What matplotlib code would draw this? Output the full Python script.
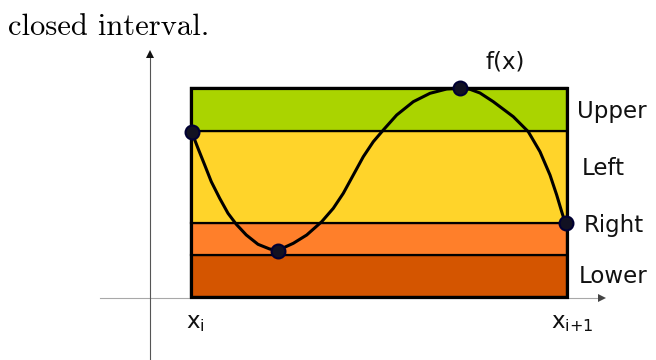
import numpy as np
import matplotlib.pyplot as plt
from matplotlib.patches import Rectangle

# interval endpoints (units measured from the axis origin)
x_left = 41
x_right = 417
rect_bottom = 1

# Riemann sum heights, bottom to top
band_names = ["Lower", "Right", "Left", "Upper"]
band_levels = [43, 75, 167, 210]
band_colors = ["#d45500", "#ff7f2a", "#ffd42a", "#aad400"]

# f(x)
curve_x = [41.5, 48, 54.7, 61.3, 69.7, 78, 86.3, 96.3, 108, 119.7, 128, 143.3,
           156.7, 171.7, 183.3, 193.3, 203.3, 213.3, 223.3, 233.3, 246.7, 263.3,
           280, 296.7, 310, 320, 330, 343.3, 363.3, 378.3, 390, 400, 406.7, 411.7, 415]
curve_y = [166.5, 149.7, 133, 116.3, 99.7, 84.7, 73.7, 63, 53.7, 49, 47.7, 54.7,
           63, 76.3, 89.7, 104.7, 123, 141.3, 156.3, 168, 183, 196.3,
           204.7, 209, 209.7, 208.7, 205, 196.3, 181.3, 166.3, 146.3, 123, 103, 86.3, 75.7]

# left end, minimum, maximum, right end
point_x = [41.7, 127.7, 310, 416]
point_y = [166, 47.5, 209.7, 75]

label_x = [429, 434, 432, 427]
label_base = [15.3, 65.7, 123, 179.7]

fig = plt.figure(figsize=(6.56, 3.6), dpi=100)
ax = fig.add_axes([0, 0, 1, 1])
ax.set_xlim(-150, 506)
ax.set_ylim(-62, 298)
ax.axis("off")

# axes with arrows
ax.plot([-50, 448], [0, 0], color="#a8a8a8", lw=0.8, zorder=1)
ax.plot([452], [0], marker=">", color="#444444", ms=6, mew=0, zorder=1)
ax.plot([0, 0], [-62, 240], color="#555555", lw=0.8, zorder=1)
ax.plot([0], [244], marker="^", color="#111111", ms=6, mew=0, zorder=1)

# stacked bands
bottoms = [rect_bottom] + band_levels[:-1]
heights = np.array(band_levels) - np.array(bottoms)
ax.bar([x_left] * 4, heights, width=x_right - x_left, bottom=bottoms, align="edge",
       color=band_colors, edgecolor="black", linewidth=1.6, zorder=2)
ax.add_patch(Rectangle((x_left, rect_bottom), x_right - x_left, band_levels[-1] - rect_bottom,
                       fill=False, edgecolor="black", linewidth=2.3, zorder=3))

ax.plot(curve_x, curve_y, color="black", lw=2.2, solid_joinstyle="round",
        solid_capstyle="round", zorder=4)
ax.plot(point_x, point_y, "o", ms=10, mfc="#111122", mec="#000033", mew=1.5, zorder=5)

for name, lx, ly in zip(band_names, label_x, label_base):
    ax.text(lx, ly, name, fontsize=16.5, va="baseline", ha="left", color="#111111")

ax.text(336, 229.7, "f(x)", fontsize=16.5, va="baseline", ha="left", color="#111111")
ax.text(36, -30.3, r"$\mathregular{x_i}$", fontsize=16.5, va="baseline", ha="left", color="#111111")
ax.text(401, -30.3, r"$\mathregular{x_{i{+}1}}$", fontsize=16.5, va="baseline", ha="left", color="#111111")

ax.text(-142, 263, "closed interval.", family="cmr10", fontsize=22, va="baseline", ha="left")

fig.savefig("out.png", dpi=100)
